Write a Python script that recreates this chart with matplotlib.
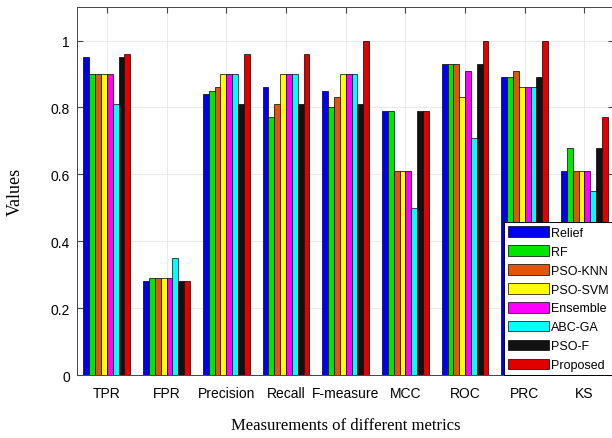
import numpy as np
import matplotlib
matplotlib.use("Agg")
import matplotlib.pyplot as plt

metrics = ["TPR", "FPR", "Precision", "Recall", "F-measure", "MCC", "ROC", "PRC", "KS"]
methods = ["Relief", "RF", "PSO-KNN", "PSO-SVM", "Ensemble", "ABC-GA", "PSO-F", "Proposed"]

relief   = [0.95, 0.28, 0.84, 0.86, 0.85, 0.79, 0.93, 0.89, 0.61]
rf       = [0.90, 0.29, 0.85, 0.77, 0.80, 0.79, 0.93, 0.89, 0.68]
pso_knn  = [0.90, 0.29, 0.86, 0.81, 0.83, 0.61, 0.93, 0.91, 0.61]
pso_svm  = [0.90, 0.29, 0.90, 0.90, 0.90, 0.61, 0.83, 0.86, 0.61]
ensemble = [0.90, 0.29, 0.90, 0.90, 0.90, 0.61, 0.91, 0.86, 0.61]
abc_ga   = [0.81, 0.35, 0.90, 0.90, 0.90, 0.50, 0.71, 0.86, 0.55]
pso_f    = [0.95, 0.28, 0.81, 0.81, 0.81, 0.79, 0.93, 0.89, 0.68]
proposed = [0.96, 0.28, 0.96, 0.96, 1.00, 0.79, 1.00, 1.00, 0.77]

series = [relief, rf, pso_knn, pso_svm, ensemble, abc_ga, pso_f, proposed]
colors = ["#0000ee", "#00e600", "#e0560f", "#ffff00", "#ff00ff", "#00ffff", "#111111", "#e00000"]

fig = plt.figure(figsize=(6.12, 4.39), dpi=100)
ax = fig.add_axes([0.1258, 0.1435, 0.878, 0.838])

x = np.arange(1, len(metrics) + 1)
w = 0.098
for i, (vals, name, c) in enumerate(zip(series, methods, colors)):
    ax.bar(x + (i - 3.5) * w, vals, width=w, color=c, edgecolor="black",
           linewidth=0.5, label=name, zorder=3)

ax.set_xlim(0.5, 9.5)
ax.set_ylim(0, 1.1)
ax.set_xticks(x)
ax.set_xticklabels(metrics, fontfamily="Liberation Sans", fontsize=10)
ax.set_yticks([0, 0.2, 0.4, 0.6, 0.8, 1.0])
ax.set_yticklabels(["0", "0.2", "0.4", "0.6", "0.8", "1"], fontfamily="Liberation Sans", fontsize=10)
ax.tick_params(direction="in", top=True, right=True, length=4, color="#444444")
ax.tick_params(axis="y", pad=5)
ax.tick_params(axis="x", pad=8)
ax.grid(True, color="#e6e6e6", linewidth=0.6, zorder=0)
for s in ax.spines.values():
    s.set_color("#444444")
    s.set_linewidth(0.7)

ax.set_ylabel("Values", fontfamily="Liberation Serif", fontsize=13, labelpad=19)
ax.set_xlabel("Measurements of different metrics", fontfamily="Liberation Serif",
              fontsize=12, labelpad=12)

leg = ax.legend(loc="lower right", bbox_to_anchor=(0.997, 0.0), borderaxespad=0,
                prop={"family": "Liberation Sans", "size": 9},
                handlelength=3.3, handleheight=0.95, labelspacing=0.5,
                handletextpad=0.2, borderpad=0.3, fancybox=False,
                edgecolor="black", framealpha=1)
leg.get_frame().set_linewidth(0.7)

fig.savefig("out.png", dpi=100)
